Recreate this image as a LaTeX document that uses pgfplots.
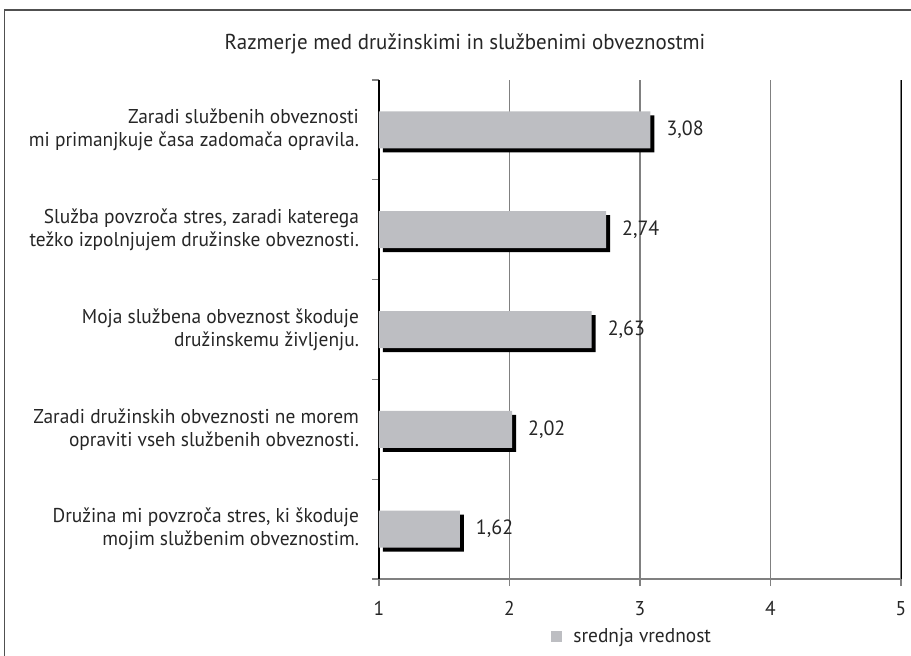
\documentclass[border=0pt]{standalone}
\usepackage{fontspec}
\setmainfont{PT Sans}[FakeStretch=0.97]
\usepackage{pgfplots}
\pgfplotsset{compat=1.18}
\definecolor{barfill}{RGB}{189,190,194}
\definecolor{gridgray}{RGB}{128,128,128}
\definecolor{framegray}{RGB}{80,80,80}
\begin{document}
\begin{tikzpicture}
\useasboundingbox (0,0) rectangle (455.5pt,-327.5pt);
\draw[framegray, line width=0.6pt] (2.25pt,-330pt) -- (2.25pt,-5pt) -- (460pt,-5pt);
\node[font=\fontsize{10.8}{12}\selectfont, text=black!85] at (232.5pt,-22pt) {Razmerje med družinskimi in službenimi obveznostmi};
\begin{axis}[
  at={(189.5pt,-289.5pt)}, anchor=south west,
  scale only axis, width=261pt, height=249.5pt,
  xmin=1, xmax=5, ymin=-0.5, ymax=4.5,
  xtick={1,2,3,4,5},
  /pgf/number format/assume math mode=true,
  ticklabel style={font=\fontsize{10}{11.5}\selectfont, text=black!85},
  xticklabel style={yshift=-4pt},
  tick align=outside,
  major tick length=3.5pt,
  x tick style={gridgray, line width=0.6pt},
  xmajorgrids,
  grid style={gridgray, line width=0.65pt},
  extra x ticks={5}, extra x tick labels={},
  extra x tick style={grid style={black, line width=0.5pt}},
  ytick={-0.5,0.5,1.5,2.5,3.5,4.5}, yticklabels={},
  y tick style={gridgray, line width=0.6pt},
  extra y ticks={0,1,2,3,4},
  extra y tick labels={
    {Družina mi povzroča stres, ki škoduje\\mojim službenim obveznostim.},
    {Zaradi družinskih obveznosti ne morem\\opraviti vseh službenih obveznosti.},
    {Moja službena obveznost škoduje\\družinskemu življenju.},
    {Služba povzroča stres, zaradi katerega\\težko izpolnjujem družinske obveznosti.},
    {Zaradi službenih obveznosti\\mi primanjkuje časa zadomača opravila.}},
  extra y tick style={tick style={draw=none}, yticklabel style={align=right, xshift=-3pt}},
  axis x line*=bottom, axis y line*=left,
  x axis line style={gridgray, line width=0.6pt, -},
  y axis line style={black, line width=0.6pt, -},
  xbar, bar width=18.5pt,
  legend style={at={(0.487,-0.116)}, anchor=center, draw=none, fill=none,
    font=\fontsize{10}{11}\selectfont, text=black!85,
    legend cell align=left},
  legend image code/.code={\fill[barfill] (0pt,-2.75pt) rectangle (5.5pt,2.75pt); \path (9pt,0pt);},
]
\addplot[xbar, fill=black, draw=none, xshift=2pt, yshift=-2pt, forget plot]
  coordinates {(1.62,0) (2.02,1) (2.63,2) (2.74,3) (3.08,4)};
\addplot[xbar, fill=barfill, draw=none,
  nodes near coords,
  nodes near coords style={font=\fontsize{10.3}{11}\selectfont, text=black!85, anchor=west, xshift=4.5pt,
    /pgf/number format/.cd, fixed, precision=2, fixed zerofill, use comma, assume math mode=true}]
  coordinates {(1.62,0) (2.02,1) (2.63,2) (2.74,3) (3.08,4)};
\addlegendentry{srednja vrednost}
\end{axis}
\end{tikzpicture}
\end{document}
